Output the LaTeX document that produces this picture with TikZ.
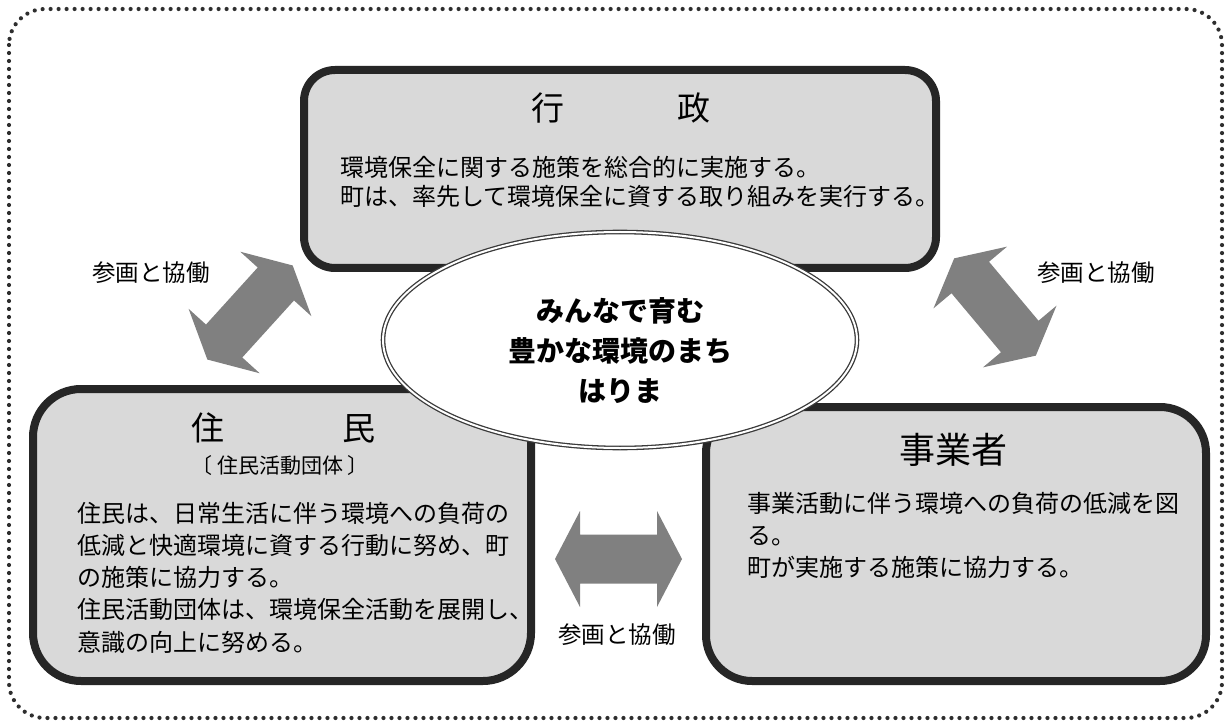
\documentclass[tikz,border=0pt]{standalone}
\usepackage{fontspec}
\setmainfont{Noto Sans CJK JP}
\usetikzlibrary{shapes.geometric}
\definecolor{boxfill}{HTML}{D9D9D9}
\definecolor{boxline}{HTML}{262626}
\definecolor{arrowgray}{HTML}{808080}
\definecolor{dotgray}{HTML}{2E2E2E}
\definecolor{ellline}{HTML}{3A3A3A}
\begin{document}
\begin{tikzpicture}[x=1pt,y=-1pt,
  panel/.style={draw=boxline, line width=8pt, fill=boxfill, rectangle, inner sep=0pt},
  bodyline/.style={font=\fontsize{24pt}{30pt}\selectfont, anchor=base west, inner sep=0pt},
  titletext/.style={font=\fontsize{33pt}{38pt}\selectfont, anchor=base, inner sep=0pt},
  labeltext/.style={font=\fontsize{23.5pt}{28pt}\selectfont, anchor=base, inner sep=0pt},
  centretext/.style={font=\fontsize{28pt}{34pt}\selectfont\bfseries, anchor=base, inner sep=0pt},
  dblarrow/.pic={\fill[arrowgray] (-63.5,0) -- (-38.5,48) -- (-38.5,24.5) -- (38.5,24.5) -- (38.5,48)
     -- (63.5,0) -- (38.5,-48) -- (38.5,-24.5) -- (-38.5,-24.5) -- (-38.5,-48) -- cycle;}
]
\useasboundingbox[fill=white] (0,0) rectangle (1231,727);
% outer dotted frame
\draw[dotgray, line width=4.2pt, dash pattern=on 0pt off 8pt, line cap=round, rounded corners=36pt]
  (9,9) rectangle (1222,718);

% panels
\node[panel, minimum width=632pt, minimum height=198pt, rounded corners=31pt] (gyosei) at (620,169) {};
\node[panel, minimum width=498pt, minimum height=292pt, rounded corners=48pt] (jumin) at (282,535) {};
\node[panel, minimum width=500pt, minimum height=274pt, rounded corners=46pt] (jigyo) at (956,544) {};

% arrows
\pic[rotate=47.8] at (250,312.5) {dblarrow};
\pic[rotate=-50] at (995,307) {dblarrow};
\pic at (618.5,559) {dblarrow};

% central ellipse
\node[ellipse, draw=ellline, double=white, double distance=2pt, line width=1.3pt, fill=white,
      minimum width=474pt, minimum height=216pt, inner sep=0pt] (centre) at (620,340) {};
\node[centretext] (c1) at (620,321.6) {みんなで育む};
\node[centretext] (c2) at (620,361.6) {豊かな環境のまち};
\node[centretext] (c3) at (620,401.6) {はりま};

% top panel text
\node[titletext] (t0) at (621,120.5) {行\hspace{113pt}政};
\node[bodyline] (t1) at (340,177) {環境保全に関する施策を総合的に実施する。};
\node[bodyline] (t2) at (340,206) {町は、率先して環境保全に資する取り組みを実行する。};

% left panel text
\node[titletext] (j0) at (283.5,440.5) {住\hspace{118pt}民};
\node[font=\fontsize{21pt}{26pt}\selectfont, anchor=base, inner sep=0pt] (jsub) at (280,473) {〔\hspace{5pt}住民活動団体\hspace{5pt}〕};
\node[bodyline] (j1) at (77,522) {住民は、日常生活に伴う環境への負荷の};
\node[bodyline] (j2) at (77,554.25) {低減と快適環境に資する行動に努め、町};
\node[bodyline] (j3) at (77,586.5) {の施策に協力する。};
\node[bodyline] (j4) at (77,618.75) {住民活動団体は、環境保全活動を展開し、};
\node[bodyline] (j5) at (77,651) {意識の向上に努める。};

% right panel text
\node[font=\fontsize{36pt}{42pt}\selectfont, anchor=base, inner sep=0pt] (k0) at (953,463) {事業者};
\node[bodyline] (k1) at (747,512) {事業活動に伴う環境への負荷の低減を図};
\node[bodyline] (k2) at (747,544) {る。};
\node[bodyline] (k3) at (747,576) {町が実施する施策に協力する。};

% arrow labels
\node[labeltext] (l1) at (151,281.7) {参画と協働};
\node[labeltext] (l2) at (1096,281.7) {参画と協働};
\node[labeltext] (l3) at (617,643.7) {参画と協働};
\end{tikzpicture}
\end{document}
